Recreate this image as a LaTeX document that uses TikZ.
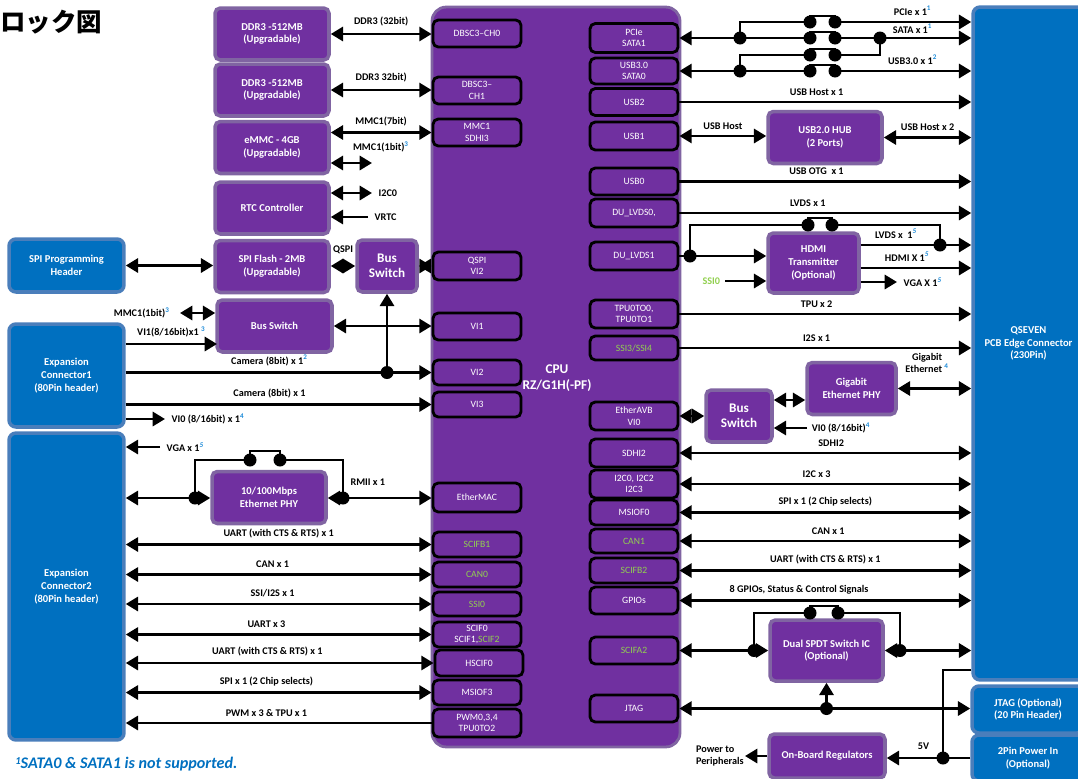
\documentclass[tikz,border=0pt]{standalone}
\usepackage{fontspec}
\setmainfont{Carlito}
\newfontfamily\jpfont{Noto Sans CJK JP}
\usetikzlibrary{arrows.meta}
\definecolor{cpupurple}{HTML}{7030A0}
\definecolor{edgepurple}{HTML}{8064A2}
\definecolor{conblue}{HTML}{0070C0}
\definecolor{edgeblue}{HTML}{4A7EBB}
\definecolor{sigreen}{HTML}{92D050}
\definecolor{noteblue}{HTML}{1E8BD8}
\newcommand{\supn}[1]{\textsuperscript{\textcolor{noteblue}{#1}}}

\begin{document}
\begin{tikzpicture}[x=0.02cm, y=-0.02cm,
    >={Triangle[length=7pt,width=8pt]},
    ln/.style={line width=1.6pt},
    arr/.style={ln, ->},
    dbl/.style={ln, <->},
    rarr/.style={ln, <-},
    pbox/.style={draw=edgepurple, line width=2pt, fill=cpupurple, rounded corners=3pt, text=white,
      font=\fontsize{6}{7.2}\selectfont\bfseries, align=center, inner sep=0pt,
      minimum width=2.28cm, minimum height=1.04cm},
    bbox/.style={draw=edgeblue, line width=2pt, fill=conblue, rounded corners=4pt, text=white,
      font=\fontsize{6}{7.2}\selectfont\bfseries, align=center, inner sep=0pt},
    ibox/.style={draw=black, line width=1.6pt, fill=cpupurple, rounded corners=3pt, text=white,
      font=\fontsize{5.5}{6.6}\selectfont, align=center, inner sep=0pt,
      minimum width=1.76cm, minimum height=0.54cm},
    bigtxt/.style={font=\fontsize{7.5}{8.6}\selectfont\bfseries},
    lbl/.style={font=\fontsize{5.8}{6.9}\selectfont\bfseries, inner sep=1pt},
    dot/.style={circle, fill=black, inner sep=0pt, minimum size=0.26cm}]
  \useasboundingbox (0,0) rectangle (1078,778);

  \node[anchor=west, inner sep=0pt, font=\jpfont\fontsize{14.5}{16}\selectfont\bfseries] (ttl) at (0,22) {ロック図};

  % CPU
  \node[draw=edgepurple, line width=1.6pt, fill=cpupurple, rounded corners=8pt,
    minimum width=4.96cm, minimum height=14.8cm] (cpu) at (556,377) {};
  \node[text=white, align=center, font=\fontsize{7.6}{9}\selectfont\bfseries] (cpulbl) at (557,378) {CPU\\RZ/G1H(-PF)};

  \node[ibox] (ch0) at (477,33.5) {DBSC3--CH0};
  \node[ibox] (ch1) at (477,90.5) {DBSC3--\\CH1};
  \node[ibox] (mmc) at (477,132.5) {MMC1\\SDHI3};
  \node[ibox, minimum height=0.56cm] (qspi) at (477,266) {QSPI\\VI2};
  \node[ibox] (vi1) at (477,326.5) {VI1};
  \node[ibox, minimum height=0.5cm] (vi2) at (477,372.5) {VI2};
  \node[ibox, minimum height=0.5cm] (vi3) at (477,404.5) {VI3};
  \node[ibox, minimum height=0.58cm] (emac) at (477,497.5) {EtherMAC};
  \node[ibox, minimum height=0.5cm, text=sigreen] (scifb1) at (477,544.5) {SCIFB1};
  \node[ibox, minimum height=0.5cm, text=sigreen] (can0) at (477,574.5) {CAN0};
  \node[ibox, minimum height=0.48cm, text=sigreen] (ssi0) at (477,604) {SSI0};
  \node[ibox, minimum height=0.5cm] (scif) at (477,634.5) {SCIF0\\SCIF1,\textcolor{sigreen}{SCIF2}};
  \node[ibox, minimum height=0.52cm] (hscif) at (479,663) {HSCIF0};
  \node[ibox, minimum height=0.5cm] (msiof3) at (477,692.5) {MSIOF3};
  \node[ibox, minimum height=0.56cm] (pwm) at (477,723) {PWM0,3,4\\TPU0TO2};

  \node[ibox, minimum height=0.58cm] (pcie) at (634,38) {PCIe\\SATA1};
  \node[ibox, minimum height=0.52cm] (usb3) at (634,71) {USB3.0\\SATA0};
  \node[ibox] (usb2) at (634,102) {USB2};
  \node[ibox, minimum height=0.56cm] (usb1) at (634,136) {USB1};
  \node[ibox] (usb0) at (634,181.5) {USB0};
  \node[ibox, minimum height=0.56cm] (lvds0) at (634,213) {DU\_LVDS0,};
  \node[ibox, minimum height=0.56cm] (lvds1) at (634,256) {DU\_LVDS1};
  \node[ibox, minimum height=0.56cm] (tpu) at (634,314) {TPU0TO0,\\TPU0TO1};
  \node[ibox, minimum height=0.48cm, text=sigreen] (ssi34) at (634,348) {SSI3/SSI4};
  \node[ibox, minimum height=0.56cm] (eavb) at (634,416) {EtherAVB\\VI0};
  \node[ibox, minimum height=0.56cm] (sdhi2) at (634,453) {SDHI2};
  \node[ibox, minimum height=0.56cm] (i2c) at (634,484) {I2C0, I2C2\\I2C3};
  \node[ibox, minimum height=0.5cm] (msiof0) at (634,512.5) {MSIOF0};
  \node[ibox, minimum height=0.48cm, text=sigreen] (can1) at (634,541) {CAN1};
  \node[ibox, minimum height=0.5cm, text=sigreen] (scifb2) at (634,570.5) {SCIFB2};
  \node[ibox] (gpio) at (634,600.5) {GPIOs};
  \node[ibox, text=sigreen] (scifa2) at (634,650.5) {SCIFA2};
  \node[ibox] (jtag) at (634,708.5) {JTAG};

  % left side
  \node[pbox] (ddra) at (272,34) {DDR3 -512MB\\(Upgradable)};
  \node[pbox] (ddrb) at (272,90) {DDR3 -512MB\\(Upgradable)};
  \node[pbox] (emmc) at (272,147.5) {eMMC - 4GB\\(Upgradable)};
  \node[pbox] (rtc) at (272,208) {RTC Controller};
  \node[pbox] (flash) at (272,266.5) {SPI Flash - 2MB\\(Upgradable)};
  \node[pbox, bigtxt, minimum width=1.2cm] (bsa) at (387,266) {Bus\\Switch};
  \node[pbox, minimum width=2.3cm] (bsb) at (274.5,326) {Bus Switch};
  \node[pbox] (ephy) at (269,497.5) {10/100Mbps\\Ethernet PHY};
  \node[bbox, minimum width=2.3cm, minimum height=1.06cm] (sphdr) at (66.5,265.5) {SPI Programming\\Header};
  \node[bbox, minimum width=2.3cm, minimum height=2.06cm] (exp1) at (66.5,375.5) {Expansion\\Connector1\\(80Pin header)};
  \node[bbox, minimum width=2.3cm, minimum height=6.14cm] (exp2) at (66.5,586.5) {Expansion\\Connector2\\(80Pin header)};

  % right side
  \node[bbox, minimum width=2.22cm, minimum height=13.46cm] (qs) at (1028.5,343.5) {QSEVEN\\PCB Edge Connector\\(230Pin)};
  \node[bbox, minimum width=2.24cm, minimum height=0.94cm] (jtago) at (1028,709.5) {JTAG (Optional)\\(20 Pin Header)};
  \node[bbox, minimum width=2.24cm, minimum height=0.92cm] (pwrin) at (1028,758) {2Pin Power In\\(Optional)};
  \node[pbox] (hub) at (825,137.5) {USB2.0 HUB\\(2 Ports)};
  \node[pbox, minimum width=1.82cm, minimum height=1.2cm] (hdmi) at (813.5,263) {HDMI\\Transmitter\\(Optional)};
  \node[pbox, minimum width=1.78cm] (gphy) at (851.5,388.5) {Gigabit\\Ethernet PHY};
  \node[pbox, bigtxt, minimum width=1.32cm] (bsc) at (739,416) {Bus\\Switch};
  \node[pbox, minimum width=2.26cm, minimum height=1.22cm] (spdt) at (826.5,650.5) {Dual SPDT Switch IC\\(Optional)};
  \node[pbox, minimum width=2.32cm, minimum height=0.88cm] (reg) at (827,756) {On-Board Regulators};

  % left connectors
  \draw[dbl] (ddra.east) -- (ddra.east -| ch0.west) node[lbl, midway, above=2.5pt] (l-ddra) {DDR3 (32bit)};
  \draw[dbl] (ddrb.east) -- (ddrb.east -| ch1.west) node[lbl, midway, above=2.5pt] (l-ddrb) {DDR3 32bit)};
  \draw[dbl] (mmc.west -| emmc.east) -- (mmc.west) node[lbl, midway, above=2pt] (l-mmc7) {MMC1(7bit)};
  \node[lbl] (l-mmc1) at (381,147) {MMC1(1bit)\supn{3}};
  \coordinate (mmcx) at (372,163);
  \draw[dbl] (emmc.east |- mmcx) -- (mmcx);
  \coordinate (i2cx) at (372,193);
  \draw[dbl] (rtc.east |- i2cx) -- (i2cx) node[lbl, right=2pt] (l-i2c0) {I2C0};
  \coordinate (vrtcx) at (368,217);
  \draw[arr] (vrtcx) node[lbl, right=2pt] (l-vrtc) {VRTC} -- (vrtcx -| rtc.east);
  \draw[dbl] (flash.east |- bsa.west) -- (bsa.west) node[lbl, midway, above=5pt] (l-qspi) {QSPI};
  \draw[dbl] (bsa.east) -- (qspi.west);
  \draw[dbl] (sphdr.east) -- (sphdr.east -| flash.west);
  \coordinate (mmcy) at (180,313);
  \draw[dbl] (mmcy) node[lbl, left=4pt] (l-mmcb) {MMC1(1bit)\supn{3}} -- (mmcy -| bsb.west);
  \coordinate (vi1x) at (217,344);
  \draw[arr] (exp1.east |- vi1x) -- (vi1x) node[lbl, midway, above=2pt] (l-vi1) {VI1(8/16bit)x1 \supn{3}};
  \draw[dbl] (bsb.east) -- (bsb.east -| vi1.west);
  \draw[arr] (exp1.east |- vi2.west) -- (vi2.west) node[lbl, pos=.47, above=2pt] (l-cam2) {Camera (8bit) x 1\supn{2}};
  \node[dot] (dcam) at (bsa.south |- vi2.west) {};
  \draw[arr] (dcam.center) -- (bsa.south);
  \draw[arr] (exp1.east |- vi3.west) -- (vi3.west) node[lbl, pos=.47, above=2pt] (l-cam1) {Camera (8bit) x 1};
  \coordinate (vi0x) at (165,419);
  \draw[arr] (exp1.east |- vi0x) -- (vi0x) node[lbl, right=2pt] (l-vi0) {VI0 (8/16bit) x 1\supn{4}};

  \coordinate (vgax) at (160,447);
  \draw[arr] (vgax) node[lbl, right=2pt] (l-vga) {VGA x 1\supn{\itshape 5}} -- (vgax -| exp2.east);
  \node[dot] (de1) at (195,498) {};
  \node[dot] (de2) at (343,498) {};
  \node[dot] (je1) at (250,460) {};
  \node[dot] (je2) at (280,460) {};
  \draw[arr] (de1.center) -- (exp2.east |- de1.center);
  \draw[arr] (de1.center) -- (ephy.west |- de1.center);
  \draw[ln] (de1.center) |- (je1.center);
  \draw[ln] (je1.center) -- ++(0,-9) -| (je2.center);
  \draw[ln] (je2.center) -| (de2.center);
  \draw[arr] (de2.center) -- (ephy.east |- de2.center);
  \draw[arr] (de2.center) -- (emac.west |- de2.center) node[lbl, pos=.28, above=5.5pt] (l-rmii) {RMII x 1};

  \draw[dbl] (exp2.east |- scifb1.west) -- (scifb1.west) node[lbl, midway, above=2pt] (l-uart1) {UART (with CTS \& RTS) x 1};
  \draw[dbl] (exp2.east |- can0.west) -- (can0.west) node[lbl, pos=.48, above=2pt] (l-can0) {CAN x 1};
  \draw[dbl] (exp2.east |- ssi0.west) -- (ssi0.west) node[lbl, pos=.48, above=2pt] (l-ssi) {SSI/I2S x 1};
  \draw[dbl] (exp2.east |- scif.west) -- (scif.west) node[lbl, pos=.46, above=2pt] (l-uart3) {UART x 3};
  \draw[dbl] (exp2.east |- hscif.west) -- (hscif.west) node[lbl, pos=.46, above=2pt] (l-uart2) {UART (with CTS \& RTS) x 1};
  \draw[dbl] (exp2.east |- msiof3.west) -- (msiof3.west) node[lbl, pos=.46, above=2pt] (l-spi3) {SPI x 1 (2 Chip selects)};
  \draw[rarr] (exp2.east |- pwm.west) -- (pwm.west) node[lbl, pos=.46, above=2pt] (l-pwm) {PWM x 3 \& TPU x 1};

  % right connectors
  \node[dot] (ta1) at (740,38) {};
  \node[dot] (tb1) at (740,71) {};
  \node[dot] (ta3) at (880,38) {};
  \foreach \r/\yy in {t/22, a/38, m/55, b/71} {
    \node[dot] (j\r1) at (810,\yy) {};
    \node[dot] (j\r2) at (835,\yy) {};
    \draw[ln] (j\r1.center) -- ++(0,-6) -| (j\r2.center);
  }
  \draw[ln] (ta1.center) |- (jt1.center);
  \draw[arr] (jt2.center) -- (jt2.center -| qs.west) node[lbl, pos=.57, above=2pt] (l-pcie) {PCIe x 1\supn{1}};
  \draw[rarr] (pcie.east) -- (ja1.center);
  \draw[arr] (ja2.center) -- (ja2.center -| qs.west) node[lbl, pos=.57, above=1pt] (l-sata) {SATA x 1\supn{1}};
  \draw[ln] (tb1.center) |- (jm1.center);
  \draw[ln] (jm2.center) -| (ta3.center);
  \draw[rarr] (usb3.east) -- (jb1.center);
  \draw[arr] (jb2.center) -- (jb2.center -| qs.west) node[lbl, pos=.57, above=2pt] (l-usb3) {USB3.0 x 1\supn{2}};

  \draw[arr] (usb2.east) -- (usb2.east -| qs.west) node[lbl, pos=.47, above=2pt] (l-usb2) {USB Host x 1};
  \draw[dbl] (usb1.east) -- (usb1.east -| hub.west) node[lbl, midway, above=2pt] (l-usb1) {USB Host};
  \draw[dbl] (hub.east) -- (hub.east -| qs.west) node[lbl, midway, above=2pt] (l-hub) {USB Host x 2};
  \draw[arr] (usb0.east) -- (usb0.east -| qs.west) node[lbl, pos=.47, above=2pt] (l-usb0) {USB OTG\ \ x 1};
  \draw[arr] (lvds0.east) -- (lvds0.east -| qs.west) node[lbl, pos=.44, above=2pt] (l-lvds0) {LVDS x 1};

  \node[dot] (dl1) at (690,256) {};
  \node[dot] (dl2) at (940,245) {};
  \node[dot] (jl1) at (808,225) {};
  \node[dot] (jl2) at (832,225) {};
  \draw[arr] (lvds1.east) -- (lvds1.east -| hdmi.west);
  \draw[ln] (dl1.center) |- (jl1.center);
  \draw[ln] (jl1.center) -- ++(0,-7) -| (jl2.center);
  \draw[ln] (jl2.center) -| (dl2.center);
  \draw[arr] (hdmi.east |- dl2.center) -- (dl2.center -| qs.west) node[lbl, pos=.32, above=2pt] (l-lvds1) {LVDS x\ \ 1\supn{\itshape 5}};
  \draw[arr] (hdmi.east |- 0,268) -- (qs.west |- 0,268) node[lbl, pos=.42, above=2pt] (l-hdmi) {HDMI X 1\supn{\itshape 5}};
  \coordinate (vgx) at (897,282);
  \draw[arr] (hdmi.east |- vgx) -- (vgx) node[lbl, right=2pt] (l-vgb) {VGA X 1\supn{\itshape 5}};
  \coordinate (ssx) at (725,281);
  \draw[arr] (ssx) node[lbl, left=1pt, text=sigreen] (l-ssi0) {SSI0} -- (ssx -| hdmi.west);

  \draw[arr] (tpu.east) -- (tpu.east -| qs.west) node[lbl, pos=.47, above=2pt] (l-tpu) {TPU x 2};
  \draw[arr] (ssi34.east) -- (ssi34.east -| qs.west) node[lbl, pos=.47, above=2pt] (l-i2s) {I2S x 1};
  \draw[dbl] (gphy.east) -- (gphy.east -| qs.west) node[lbl, pos=.4, above=7pt, align=center] (l-geth) {Gigabit\\Ethernet \supn{4}};
  \draw[dbl] (bsc.east |- 0,400) -- (gphy.west |- 0,400);
  \draw[dbl] (eavb.east) -- (bsc.west);
  \coordinate (vib) at (807,428);
  \draw[arr] (vib) node[lbl, right=1pt] (l-vib) {VI0 (8/16bit)\supn{4}} -- (vib -| bsc.east);

  \draw[dbl] (sdhi2.east) -- (sdhi2.east -| qs.west) node[lbl, pos=.52, above=2pt] (l-sdhi2) {SDHI2};
  \draw[dbl] (i2c.east) -- (i2c.east -| qs.west) node[lbl, pos=.47, above=2pt] (l-i2c) {I2C x 3};
  \draw[dbl] (msiof0.east) -- (msiof0.east -| qs.west) node[lbl, pos=.5, above=2pt] (l-spi0) {SPI x 1 (2 Chip selects)};
  \draw[dbl] (can1.east) -- (can1.east -| qs.west) node[lbl, pos=.51, above=2pt] (l-can1) {CAN x 1};
  \draw[dbl] (scifb2.east) -- (scifb2.east -| qs.west) node[lbl, pos=.5, above=2pt] (l-uart4) {UART (with CTS \& RTS) x 1};
  \draw[dbl] (gpio.east) -- (gpio.east -| qs.west) node[lbl, pos=.41, above=2pt] (l-gpio) {8 GPIOs, Status \& Control Signals};

  \node[dot] (ds1) at (754,650.5) {};
  \node[dot] (ds2) at (900,650.5) {};
  \node[dot] (js1) at (810,613) {};
  \node[dot] (js2) at (838,613) {};
  \draw[arr] (ds1.center) -- (scifa2.east);
  \draw[arr] (ds1.center) -- (spdt.west);
  \draw[ln] (ds1.center) |- (js1.center);
  \draw[ln] (js1.center) -- ++(0,-7) -| (js2.center);
  \draw[ln] (js2.center) -| (ds2.center);
  \draw[arr] (ds2.center) -- (spdt.east);
  \draw[arr] (ds2.center) -- (ds2.center -| qs.west);

  \node[dot] (dj) at (spdt.south |- jtag.east) {};
  \draw[dbl] (jtag.east) -- (jtag.east -| jtago.west);
  \draw[arr] (dj.center) -- (spdt.south);

  \node[dot] (d5) at (943,758) {};
  \draw[arr] (pwrin.west) -- (pwrin.west -| reg.east) node[lbl, pos=.56, above=3pt] (l-5v) {5V};
  \draw[ln] (qs.west |- 0,670) -| (d5.center);
  \coordinate (ppx) at (745,756);
  \draw[arr] (reg.west) -- (ppx);
  \node[lbl, anchor=east, align=left, inner sep=0pt] (l-pp) at (744,756) {Power to\\Peripherals};

  \node[anchor=west, inner sep=0pt, text=conblue, font=\fontsize{9.2}{11}\selectfont\bfseries\itshape] (note1) at (15,764)
    {{\fontsize{6}{7}\selectfont\raisebox{0.35em}{1}}SATA0 \& SATA1 is not supported.};
\end{tikzpicture}
\end{document}
